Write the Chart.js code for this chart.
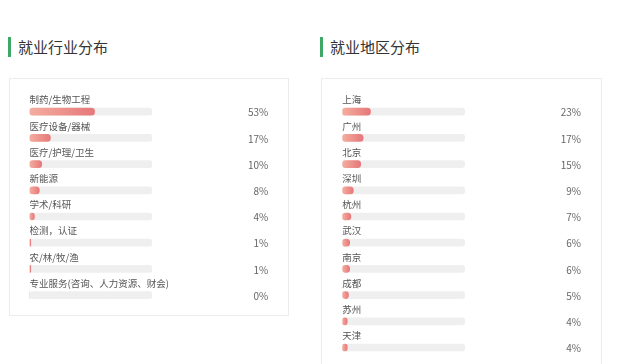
<!DOCTYPE html>
<html>
<head>
<meta charset="utf-8">
<script src="https://cdn.jsdelivr.net/npm/chart.js@4/dist/chart.umd.min.js"></script>
<style>
  html, body { margin: 0; padding: 0; background: #ffffff; width: 640px; height: 364px; overflow: hidden; }
  .mark { position: absolute; width: 3px; height: 20px; background: #3fa866; }
  .title { position: absolute; font-family: "Noto Sans CJK SC", sans-serif; font-size: 15px; color: #333333; line-height: 20px; }
  .card { position: absolute; box-shadow: inset 0 0 0 1px #ececec; }
  .card canvas { position: absolute; left: 0; top: 0; }
</style>
</head>
<body>
<div class="mark" style="left:8px; top:37px;"></div>
<div class="title" style="left:18px; top:37px;">就业行业分布</div>
<div class="mark" style="left:320px; top:37px;"></div>
<div class="title" style="left:330px; top:37px;">就业地区分布</div>

<div class="card" style="left:9px; top:78px; width:280px; height:238px;">
  <canvas id="c1" width="280" height="238"></canvas>
</div>
<div class="card" style="left:321px; top:78px; width:281px; height:300px;">
  <canvas id="c2" width="281" height="300"></canvas>
</div>

<script>
// ---- data ----
const industryLabels = ["制药/生物工程", "医疗设备/器械", "医疗/护理/卫生", "新能源", "学术/科研", "检测，认证", "农/林/牧/渔", "专业服务(咨询、人力资源、财会)"];
const industryValues = [53, 17, 10, 8, 4, 1, 1, 0];

const regionLabels = ["上海", "广州", "北京", "深圳", "杭州", "武汉", "南京", "成都", "苏州", "天津"];
const regionValues = [23, 17, 15, 9, 7, 6, 6, 5, 4, 4];

const trackMax = 100;

function barGradient(context) {
  const chart = context.chart;
  const xs = chart.scales.x;
  if (!chart.chartArea || !xs) return '#ec8c84';
  const x0 = xs.getPixelForValue(0);
  const x1 = Math.max(x0 + 1, xs.getPixelForValue(context.raw || 0));
  const g = chart.ctx.createLinearGradient(x0, 0, x1, 0);
  g.addColorStop(0, '#f4ae9f');
  g.addColorStop(1, '#e6777a');
  return g;
}

const textPlugin = {
  id: 'rowText',
  afterDatasetsDraw(chart) {
    const ctx = chart.ctx;
    const xs = chart.scales.x, ys = chart.scales.y;
    const labels = chart.data.labels;
    const vals = chart.data.datasets[1].data;
    ctx.save();
    ctx.textBaseline = 'middle';
    labels.forEach((lab, i) => {
      const y = ys.getPixelForValue(i);
      ctx.font = '9.5px "Noto Sans CJK SC", sans-serif';
      ctx.fillStyle = '#555555';
      ctx.textAlign = 'left';
      ctx.fillText(lab, xs.left, y - 12);
      ctx.font = '10px "Noto Sans CJK SC", sans-serif';
      ctx.fillStyle = '#666666';
      ctx.textAlign = 'right';
      ctx.fillText(vals[i] + '%', xs.right + 116, y + 1);
    });
    ctx.restore();
  }
};

function makeChart(id, labels, values, padding) {
  return new Chart(document.getElementById(id), {
    type: 'bar',
    data: {
      labels: labels,
      datasets: [
        {
          data: labels.map(() => trackMax),
          backgroundColor: '#efefef',
          barThickness: 7,
          borderRadius: 4,
          borderSkipped: false,
          grouped: false,
          order: 2
        },
        {
          data: values,
          backgroundColor: barGradient,
          barThickness: 7,
          borderRadius: 4,
          borderSkipped: false,
          grouped: false,
          order: 1
        }
      ]
    },
    options: {
      indexAxis: 'y',
      responsive: false,
      animation: false,
      layout: { padding: padding },
      plugins: { legend: { display: false }, tooltip: { enabled: false } },
      scales: {
        x: { display: false, min: 0, max: trackMax },
        y: { display: false }
      }
    },
    plugins: [textPlugin]
  });
}

makeChart('c1', industryLabels, industryValues, { left: 20.5, right: 136.7, top: 20.6, bottom: 7.8 });
makeChart('c2', regionLabels, regionValues, { left: 21.3, right: 137, top: 20.6, bottom: 17.4 });
</script>
</body>
</html>
